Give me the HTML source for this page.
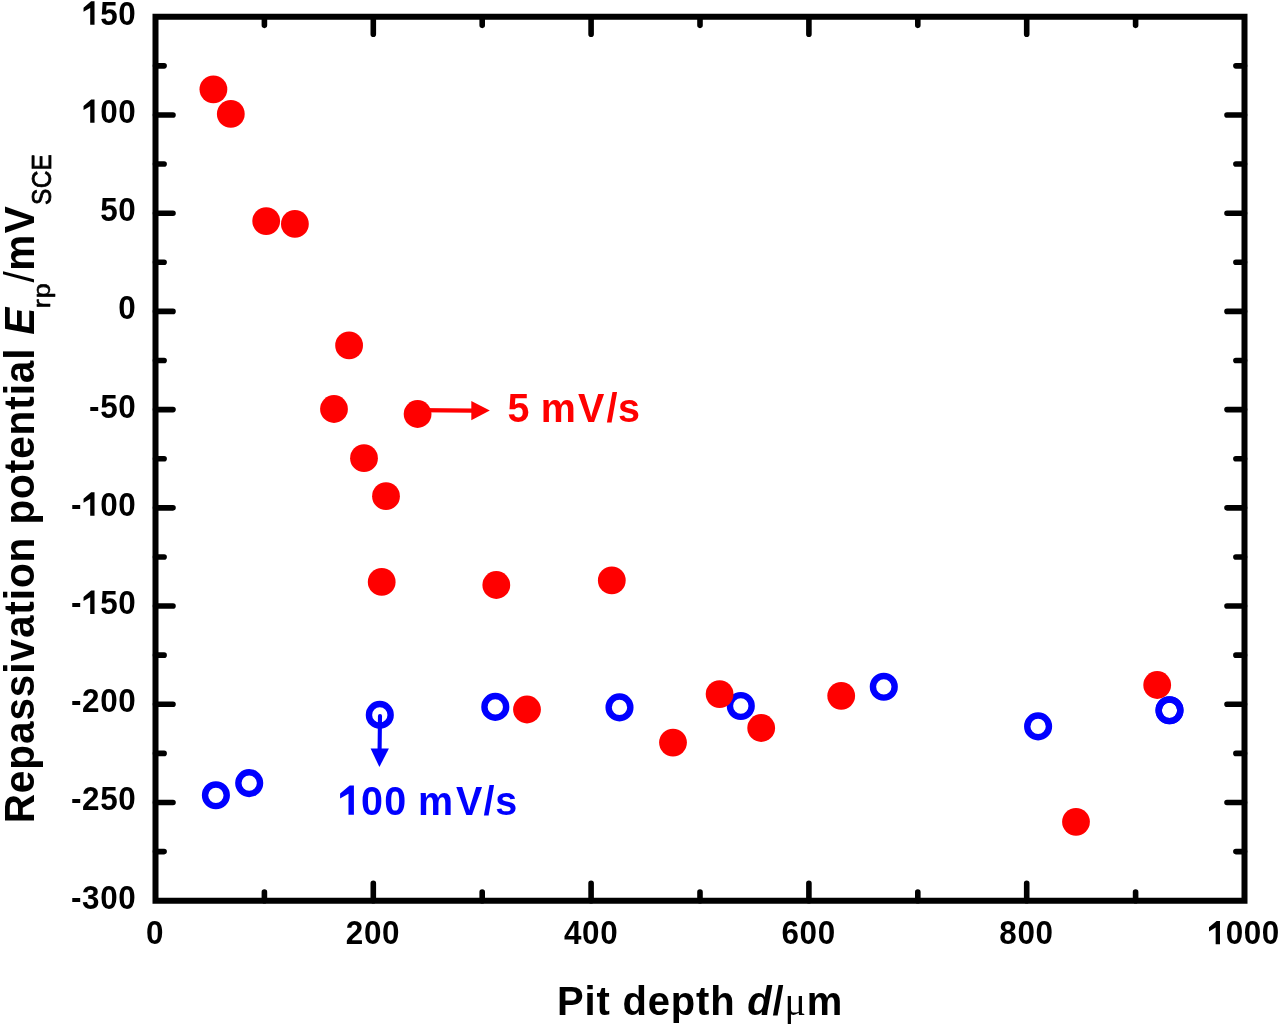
<!DOCTYPE html>
<html><head><meta charset="utf-8"><style>
html,body{margin:0;padding:0;background:#fff;}
body{width:1280px;height:1026px;overflow:hidden;}
svg{display:block;filter:blur(0.45px);}

</style></head><body>
<svg width="1280" height="1026" viewBox="0 0 1280 1026">
<rect x="0" y="0" width="1280" height="1026" fill="#fff"/>
<path d="M155.50 16.74H1244.50V900.72H155.50Z" fill="none" stroke="#000" stroke-width="6.0" stroke-linejoin="miter"/>
<path d="M155.50 851.61h8.6 M1244.50 851.61h-8.6 M155.50 802.50h17.5 M1244.50 802.50h-17.5 M155.50 753.39h8.6 M1244.50 753.39h-8.6 M155.50 704.28h17.5 M1244.50 704.28h-17.5 M155.50 655.17h8.6 M1244.50 655.17h-8.6 M155.50 606.06h17.5 M1244.50 606.06h-17.5 M155.50 556.95h8.6 M1244.50 556.95h-8.6 M155.50 507.84h17.5 M1244.50 507.84h-17.5 M155.50 458.73h8.6 M1244.50 458.73h-8.6 M155.50 409.62h17.5 M1244.50 409.62h-17.5 M155.50 360.51h8.6 M1244.50 360.51h-8.6 M155.50 311.40h17.5 M1244.50 311.40h-17.5 M155.50 262.29h8.6 M1244.50 262.29h-8.6 M155.50 213.18h17.5 M1244.50 213.18h-17.5 M155.50 164.07h8.6 M1244.50 164.07h-8.6 M155.50 114.96h17.5 M1244.50 114.96h-17.5 M155.50 65.85h8.6 M1244.50 65.85h-8.6 M264.40 16.74v8.6 M264.40 900.72v-8.6 M373.30 16.74v17.5 M373.30 900.72v-17.5 M482.20 16.74v8.6 M482.20 900.72v-8.6 M591.10 16.74v17.5 M591.10 900.72v-17.5 M700.00 16.74v8.6 M700.00 900.72v-8.6 M808.90 16.74v17.5 M808.90 900.72v-17.5 M917.80 16.74v8.6 M917.80 900.72v-8.6 M1026.70 16.74v17.5 M1026.70 900.72v-17.5 M1135.60 16.74v8.6 M1135.60 900.72v-8.6" stroke="#000" stroke-width="5.6" stroke-linecap="round" fill="none"/>
<g transform="translate(82.10 24.64) scale(1 1.04)" fill="#000"><polygon points="12.42,0.00 8.11,0.00 8.11,-16.07 1.44,-12.39 1.44,-16.28 9.05,-22.48 12.42,-22.48" fill="#000"/><text x="18.11" y="0.00" font-family="Liberation Sans" font-weight="bold" font-style="normal" font-size="31.4">5</text><text x="36.23" y="0.00" font-family="Liberation Sans" font-weight="bold" font-style="normal" font-size="31.4">0</text></g>
<g transform="translate(82.10 122.86) scale(1 1.04)" fill="#000"><polygon points="12.42,0.00 8.11,0.00 8.11,-16.07 1.44,-12.39 1.44,-16.28 9.05,-22.48 12.42,-22.48" fill="#000"/><text x="18.11" y="0.00" font-family="Liberation Sans" font-weight="bold" font-style="normal" font-size="31.4">0</text><text x="36.23" y="0.00" font-family="Liberation Sans" font-weight="bold" font-style="normal" font-size="31.4">0</text></g>
<g transform="translate(100.21 221.08) scale(1 1.04)" fill="#000"><text x="0.00" y="0.00" font-family="Liberation Sans" font-weight="bold" font-style="normal" font-size="31.4">5</text><text x="18.11" y="0.00" font-family="Liberation Sans" font-weight="bold" font-style="normal" font-size="31.4">0</text></g>
<g transform="translate(118.32 319.30) scale(1 1.04)" fill="#000"><text x="0.00" y="0.00" font-family="Liberation Sans" font-weight="bold" font-style="normal" font-size="31.4">0</text></g>
<g transform="translate(89.11 417.52) scale(1 1.04)" fill="#000"><text x="0.00" y="0.00" font-family="Liberation Sans" font-weight="bold" font-style="normal" font-size="31.4">-</text><text x="11.11" y="0.00" font-family="Liberation Sans" font-weight="bold" font-style="normal" font-size="31.4">5</text><text x="29.22" y="0.00" font-family="Liberation Sans" font-weight="bold" font-style="normal" font-size="31.4">0</text></g>
<g transform="translate(70.99 515.74) scale(1 1.04)" fill="#000"><text x="0.00" y="0.00" font-family="Liberation Sans" font-weight="bold" font-style="normal" font-size="31.4">-</text><polygon points="23.53,0.00 19.22,0.00 19.22,-16.07 12.55,-12.39 12.55,-16.28 20.15,-22.48 23.53,-22.48" fill="#000"/><text x="29.22" y="0.00" font-family="Liberation Sans" font-weight="bold" font-style="normal" font-size="31.4">0</text><text x="47.33" y="0.00" font-family="Liberation Sans" font-weight="bold" font-style="normal" font-size="31.4">0</text></g>
<g transform="translate(70.99 613.96) scale(1 1.04)" fill="#000"><text x="0.00" y="0.00" font-family="Liberation Sans" font-weight="bold" font-style="normal" font-size="31.4">-</text><polygon points="23.53,0.00 19.22,0.00 19.22,-16.07 12.55,-12.39 12.55,-16.28 20.15,-22.48 23.53,-22.48" fill="#000"/><text x="29.22" y="0.00" font-family="Liberation Sans" font-weight="bold" font-style="normal" font-size="31.4">5</text><text x="47.33" y="0.00" font-family="Liberation Sans" font-weight="bold" font-style="normal" font-size="31.4">0</text></g>
<g transform="translate(70.99 712.18) scale(1 1.04)" fill="#000"><text x="0.00" y="0.00" font-family="Liberation Sans" font-weight="bold" font-style="normal" font-size="31.4">-</text><text x="11.11" y="0.00" font-family="Liberation Sans" font-weight="bold" font-style="normal" font-size="31.4">2</text><text x="29.22" y="0.00" font-family="Liberation Sans" font-weight="bold" font-style="normal" font-size="31.4">0</text><text x="47.33" y="0.00" font-family="Liberation Sans" font-weight="bold" font-style="normal" font-size="31.4">0</text></g>
<g transform="translate(70.99 810.40) scale(1 1.04)" fill="#000"><text x="0.00" y="0.00" font-family="Liberation Sans" font-weight="bold" font-style="normal" font-size="31.4">-</text><text x="11.11" y="0.00" font-family="Liberation Sans" font-weight="bold" font-style="normal" font-size="31.4">2</text><text x="29.22" y="0.00" font-family="Liberation Sans" font-weight="bold" font-style="normal" font-size="31.4">5</text><text x="47.33" y="0.00" font-family="Liberation Sans" font-weight="bold" font-style="normal" font-size="31.4">0</text></g>
<g transform="translate(70.99 908.62) scale(1 1.04)" fill="#000"><text x="0.00" y="0.00" font-family="Liberation Sans" font-weight="bold" font-style="normal" font-size="31.4">-</text><text x="11.11" y="0.00" font-family="Liberation Sans" font-weight="bold" font-style="normal" font-size="31.4">3</text><text x="29.22" y="0.00" font-family="Liberation Sans" font-weight="bold" font-style="normal" font-size="31.4">0</text><text x="47.33" y="0.00" font-family="Liberation Sans" font-weight="bold" font-style="normal" font-size="31.4">0</text></g>
<g transform="translate(146.09 944.3) scale(1 1.04)" fill="#000"><text x="0.00" y="0.00" font-family="Liberation Sans" font-weight="bold" font-style="normal" font-size="31.4">0</text></g>
<g transform="translate(345.85 944.3) scale(1 1.04)" fill="#000"><text x="0.00" y="0.00" font-family="Liberation Sans" font-weight="bold" font-style="normal" font-size="31.4">2</text><text x="18.11" y="0.00" font-family="Liberation Sans" font-weight="bold" font-style="normal" font-size="31.4">0</text><text x="36.23" y="0.00" font-family="Liberation Sans" font-weight="bold" font-style="normal" font-size="31.4">0</text></g>
<g transform="translate(563.96 944.3) scale(1 1.04)" fill="#000"><text x="0.00" y="0.00" font-family="Liberation Sans" font-weight="bold" font-style="normal" font-size="31.4">4</text><text x="18.11" y="0.00" font-family="Liberation Sans" font-weight="bold" font-style="normal" font-size="31.4">0</text><text x="36.23" y="0.00" font-family="Liberation Sans" font-weight="bold" font-style="normal" font-size="31.4">0</text></g>
<g transform="translate(781.42 944.3) scale(1 1.04)" fill="#000"><text x="0.00" y="0.00" font-family="Liberation Sans" font-weight="bold" font-style="normal" font-size="31.4">6</text><text x="18.11" y="0.00" font-family="Liberation Sans" font-weight="bold" font-style="normal" font-size="31.4">0</text><text x="36.23" y="0.00" font-family="Liberation Sans" font-weight="bold" font-style="normal" font-size="31.4">0</text></g>
<g transform="translate(999.30 944.3) scale(1 1.04)" fill="#000"><text x="0.00" y="0.00" font-family="Liberation Sans" font-weight="bold" font-style="normal" font-size="31.4">8</text><text x="18.11" y="0.00" font-family="Liberation Sans" font-weight="bold" font-style="normal" font-size="31.4">0</text><text x="36.23" y="0.00" font-family="Liberation Sans" font-weight="bold" font-style="normal" font-size="31.4">0</text></g>
<g transform="translate(1207.55 944.3) scale(1 1.04)" fill="#000"><polygon points="12.42,0.00 8.11,0.00 8.11,-16.07 1.44,-12.39 1.44,-16.28 9.05,-22.48 12.42,-22.48" fill="#000"/><text x="18.11" y="0.00" font-family="Liberation Sans" font-weight="bold" font-style="normal" font-size="31.4">0</text><text x="36.23" y="0.00" font-family="Liberation Sans" font-weight="bold" font-style="normal" font-size="31.4">0</text><text x="54.34" y="0.00" font-family="Liberation Sans" font-weight="bold" font-style="normal" font-size="31.4">0</text></g>
<circle cx="213.4" cy="89.3" r="13.9" fill="#ff0000"/>
<circle cx="230.8" cy="113.9" r="13.9" fill="#ff0000"/>
<circle cx="266.2" cy="221.1" r="13.9" fill="#ff0000"/>
<circle cx="294.9" cy="223.9" r="13.9" fill="#ff0000"/>
<circle cx="349.1" cy="345.4" r="13.9" fill="#ff0000"/>
<circle cx="334.0" cy="409.0" r="13.9" fill="#ff0000"/>
<circle cx="417.6" cy="414.0" r="13.9" fill="#ff0000"/>
<circle cx="364.0" cy="458.2" r="13.9" fill="#ff0000"/>
<circle cx="386.0" cy="496.2" r="13.9" fill="#ff0000"/>
<circle cx="381.7" cy="581.9" r="13.9" fill="#ff0000"/>
<circle cx="496.3" cy="585.0" r="13.9" fill="#ff0000"/>
<circle cx="611.8" cy="580.4" r="13.9" fill="#ff0000"/>
<circle cx="527.0" cy="709.5" r="13.9" fill="#ff0000"/>
<circle cx="673.0" cy="742.6" r="13.9" fill="#ff0000"/>
<circle cx="841.2" cy="695.8" r="13.9" fill="#ff0000"/>
<circle cx="1076.0" cy="821.8" r="13.9" fill="#ff0000"/>
<circle cx="215.9" cy="795.3" r="10.85" fill="none" stroke="#0000ff" stroke-width="6.4"/>
<circle cx="249.2" cy="783.1" r="10.85" fill="none" stroke="#0000ff" stroke-width="6.4"/>
<circle cx="379.8" cy="714.9" r="10.85" fill="none" stroke="#0000ff" stroke-width="6.4"/>
<circle cx="495.3" cy="706.9" r="10.85" fill="none" stroke="#0000ff" stroke-width="6.4"/>
<circle cx="619.5" cy="707.4" r="10.85" fill="none" stroke="#0000ff" stroke-width="6.4"/>
<circle cx="740.8" cy="706.0" r="10.85" fill="none" stroke="#0000ff" stroke-width="6.4"/>
<circle cx="883.8" cy="686.8" r="10.85" fill="none" stroke="#0000ff" stroke-width="6.4"/>
<circle cx="1038.1" cy="726.4" r="10.85" fill="none" stroke="#0000ff" stroke-width="6.4"/>
<circle cx="1169.5" cy="710.3" r="10.85" fill="none" stroke="#0000ff" stroke-width="6.4"/>
<circle cx="719.6" cy="694.1" r="13.9" fill="#ff0000"/>
<circle cx="761.2" cy="728.0" r="13.9" fill="#ff0000"/>
<circle cx="1157.2" cy="685.0" r="13.9" fill="#ff0000"/>
<circle cx="1169.5" cy="710.3" r="10.85" fill="none" stroke="#0000ff" stroke-width="6.4"/>
<path d="M417.6 410.2L472 410.6" stroke="#ff0000" stroke-width="4.2" fill="none"/>
<path d="M471.3 401L489.8 410.6L471.3 420.2Z" fill="#ff0000"/>
<path d="M380 716L379.6 749" stroke="#0000ff" stroke-width="4.1" stroke-linecap="round" fill="none"/>
<path d="M370.6 748.6L388.9 748.6L379.4 767Z" fill="#0000ff"/>
<g transform="translate(0 422.0) scale(1 1.035)" fill="#ff0000"><text x="507.48" y="0.00" font-family="Liberation Sans" font-weight="bold" font-style="normal" font-size="39.5">5</text><text x="540.70" y="0.00" font-family="Liberation Sans" font-weight="bold" font-style="normal" font-size="39.5">m</text><text x="578.13" y="0.00" font-family="Liberation Sans" font-weight="bold" font-style="normal" font-size="39.5">V</text><text x="606.41" y="0.00" font-family="Liberation Sans" font-weight="bold" font-style="normal" font-size="39.5">/</text><text x="618.01" y="0.00" font-family="Liberation Sans" font-weight="bold" font-style="normal" font-size="39.5">s</text></g>
<g transform="translate(0 814.7) scale(1 1.035)" fill="#0000ff"><polygon points="353.91,0.00 348.49,0.00 348.49,-20.21 340.10,-15.58 340.10,-20.48 349.67,-28.27 353.91,-28.27" fill="#0000ff"/><text x="361.04" y="0.00" font-family="Liberation Sans" font-weight="bold" font-style="normal" font-size="39.5">0</text><text x="384.24" y="0.00" font-family="Liberation Sans" font-weight="bold" font-style="normal" font-size="39.5">0</text><text x="418.10" y="0.00" font-family="Liberation Sans" font-weight="bold" font-style="normal" font-size="39.5">m</text><text x="456.03" y="0.00" font-family="Liberation Sans" font-weight="bold" font-style="normal" font-size="39.5">V</text><text x="483.41" y="0.00" font-family="Liberation Sans" font-weight="bold" font-style="normal" font-size="39.5">/</text><text x="495.31" y="0.00" font-family="Liberation Sans" font-weight="bold" font-style="normal" font-size="39.5">s</text></g>
<g transform="translate(557.12 1014.6) scale(1 1.033)" fill="#000"><text x="0.00" y="0.00" font-family="Liberation Sans" font-weight="bold" font-style="normal" font-size="40">P</text><text x="27.48" y="0.00" font-family="Liberation Sans" font-weight="bold" font-style="normal" font-size="40">i</text><text x="39.39" y="0.00" font-family="Liberation Sans" font-weight="bold" font-style="normal" font-size="40">t</text><text x="65.43" y="0.00" font-family="Liberation Sans" font-weight="bold" font-style="normal" font-size="40">d</text><text x="90.66" y="0.00" font-family="Liberation Sans" font-weight="bold" font-style="normal" font-size="40">e</text><text x="113.71" y="0.00" font-family="Liberation Sans" font-weight="bold" font-style="normal" font-size="40">p</text><text x="138.94" y="0.00" font-family="Liberation Sans" font-weight="bold" font-style="normal" font-size="40">t</text><text x="153.06" y="0.00" font-family="Liberation Sans" font-weight="bold" font-style="normal" font-size="40">h</text><text x="190.21" y="0.00" font-family="Liberation Sans" font-weight="bold" font-style="italic" font-size="40">d</text><text x="215.44" y="0.00" font-family="Liberation Sans" font-weight="bold" font-style="normal" font-size="40">/</text><text x="227.35" y="0.00" font-family="Liberation Serif" font-weight="normal" font-style="normal" font-size="40">μ</text><text x="249.60" y="0.00" font-family="Liberation Sans" font-weight="bold" font-style="normal" font-size="40">m</text></g>
<g transform="translate(34.3 823.31) rotate(-90) scale(1 1.04)" fill="#000"><text x="0.00" y="0.00" font-family="Liberation Sans" font-weight="bold" font-style="normal" font-size="40.5">R</text><text x="30.17" y="0.00" font-family="Liberation Sans" font-weight="bold" font-style="normal" font-size="40.5">e</text><text x="53.61" y="0.00" font-family="Liberation Sans" font-weight="bold" font-style="normal" font-size="40.5">p</text><text x="79.27" y="0.00" font-family="Liberation Sans" font-weight="bold" font-style="normal" font-size="40.5">a</text><text x="102.72" y="0.00" font-family="Liberation Sans" font-weight="bold" font-style="normal" font-size="40.5">s</text><text x="126.16" y="0.00" font-family="Liberation Sans" font-weight="bold" font-style="normal" font-size="40.5">s</text><text x="149.60" y="0.00" font-family="Liberation Sans" font-weight="bold" font-style="normal" font-size="40.5">i</text><text x="161.78" y="0.00" font-family="Liberation Sans" font-weight="bold" font-style="normal" font-size="40.5">v</text><text x="185.22" y="0.00" font-family="Liberation Sans" font-weight="bold" font-style="normal" font-size="40.5">a</text><text x="208.66" y="0.00" font-family="Liberation Sans" font-weight="bold" font-style="normal" font-size="40.5">t</text><text x="223.07" y="0.00" font-family="Liberation Sans" font-weight="bold" font-style="normal" font-size="40.5">i</text><text x="235.24" y="0.00" font-family="Liberation Sans" font-weight="bold" font-style="normal" font-size="40.5">o</text><text x="260.90" y="0.00" font-family="Liberation Sans" font-weight="bold" font-style="normal" font-size="40.5">n</text><text x="298.73" y="0.00" font-family="Liberation Sans" font-weight="bold" font-style="normal" font-size="40.5">p</text><text x="324.39" y="0.00" font-family="Liberation Sans" font-weight="bold" font-style="normal" font-size="40.5">o</text><text x="350.05" y="0.00" font-family="Liberation Sans" font-weight="bold" font-style="normal" font-size="40.5">t</text><text x="364.46" y="0.00" font-family="Liberation Sans" font-weight="bold" font-style="normal" font-size="40.5">e</text><text x="387.90" y="0.00" font-family="Liberation Sans" font-weight="bold" font-style="normal" font-size="40.5">n</text><text x="413.56" y="0.00" font-family="Liberation Sans" font-weight="bold" font-style="normal" font-size="40.5">t</text><text x="427.97" y="0.00" font-family="Liberation Sans" font-weight="bold" font-style="normal" font-size="40.5">i</text><text x="440.14" y="0.00" font-family="Liberation Sans" font-weight="bold" font-style="normal" font-size="40.5">a</text><text x="463.58" y="0.00" font-family="Liberation Sans" font-weight="bold" font-style="normal" font-size="40.5">l</text><text x="488.50" y="0.00" font-family="Liberation Sans" font-weight="bold" font-style="italic" font-size="40.5">E</text><text x="540.91" y="0.00" font-family="Liberation Sans" font-weight="normal" font-style="normal" font-size="40.5">/</text><text x="552.54" y="0.00" font-family="Liberation Sans" font-weight="bold" font-style="normal" font-size="40.5">m</text><text x="590.13" y="0.00" font-family="Liberation Sans" font-weight="bold" font-style="normal" font-size="40.5">V</text></g>
<g transform="translate(50.3 823.31) rotate(-90) scale(1 0.915)" fill="#000" stroke="#000" stroke-width="0.7" stroke-linejoin="round"><text x="515.12" y="0.00" font-family="Liberation Sans" font-weight="normal" font-style="normal" font-size="27">r</text><text x="525.11" y="0.00" font-family="Liberation Sans" font-weight="normal" font-style="normal" font-size="27">p</text></g>
<g transform="translate(50.6 823.31) rotate(-90) scale(1 1.12)" fill="#000" stroke="#000" stroke-width="0.7" stroke-linejoin="round"><text x="618.30" y="0.00" font-family="Liberation Sans" font-weight="normal" font-style="normal" font-size="24.5">S</text><text x="634.94" y="0.00" font-family="Liberation Sans" font-weight="normal" font-style="normal" font-size="24.5">C</text><text x="652.93" y="0.00" font-family="Liberation Sans" font-weight="normal" font-style="normal" font-size="24.5">E</text></g>
</svg>
</body></html>
